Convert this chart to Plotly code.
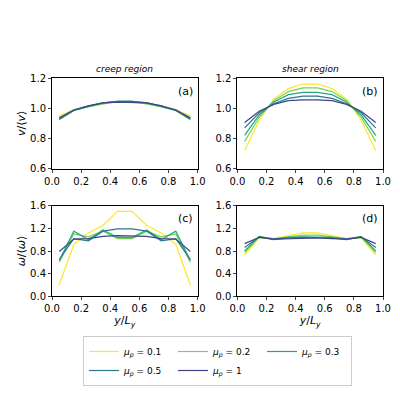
import plotly.graph_objects as go
from plotly.subplots import make_subplots

x = [0.05,0.15,0.25,0.35,0.45,0.55,0.65,0.75,0.85,0.95]
mus = ["0.1","0.2","0.3","0.5","1"]
colors = ["#fde725","#7ad151","#22a884","#2a788e","#414487"]
def sym(h): return h + h[::-1]
a = [sym([0.95,0.99,1.01,1.03,1.04]), sym([0.94,0.985,1.01,1.03,1.045]), sym([0.93,0.985,1.01,1.035,1.045]),
     sym([0.925,0.985,1.015,1.035,1.045]), sym([0.935,0.99,1.015,1.035,1.04])]
b = [sym([0.72,0.92,1.06,1.13,1.16]), sym([0.78,0.94,1.05,1.11,1.135]), sym([0.82,0.955,1.04,1.09,1.105]),
     sym([0.87,0.97,1.03,1.065,1.08]), sym([0.905,0.98,1.025,1.05,1.055])]
c = [sym([0.2,0.92,1.12,1.25,1.5]), sym([0.6,1.1,1.05,1.15,1.02]), sym([0.63,1.15,1.0,1.17,1.04]),
     sym([0.65,1.02,0.98,1.15,1.19]), sym([0.79,1.01,1.02,1.06,1.07])]
d = [sym([0.73,1.03,1.02,1.07,1.12]), sym([0.77,1.05,1.02,1.05,1.08]), sym([0.8,1.06,1.01,1.04,1.05]),
     sym([0.86,1.05,1.0,1.03,1.04]), sym([0.93,1.04,1.01,1.02,1.03])]

fig = make_subplots(rows=2, cols=2, horizontal_spacing=0.12, vertical_spacing=0.17)
for i,(mu,col) in enumerate(zip(mus,colors)):
    for data,(r,cc) in zip([a,b,c,d],[(1,1),(1,2),(2,1),(2,2)]):
        fig.add_trace(go.Scatter(x=x,y=data[i],mode="lines",line=dict(color=col,width=1.2),
            name=f"<i>μ<sub>p</sub></i> = {mu}", showlegend=(r==1 and cc==1)), row=r, col=cc)
ax = dict(range=[0,1], dtick=0.2, tickformat=".1f", showgrid=False, zeroline=False, showline=True,
          linecolor="black", mirror=True, ticks="outside", ticklen=3, tickfont=dict(size=10))
for r in (1,2):
    for cc in (1,2):
        fig.update_xaxes(**ax, row=r, col=cc)
        fig.update_yaxes(**ax, row=r, col=cc)
for cc in (1,2):
    fig.update_yaxes(range=[0.6,1.2], dtick=0.2, row=1, col=cc)
    fig.update_yaxes(range=[0,1.6], dtick=0.4, row=2, col=cc)
    fig.update_xaxes(title=dict(text="<i>y</i>/<i>L<sub>y</sub></i>", standoff=2, font=dict(size=11)), row=2, col=cc)
fig.update_yaxes(title=dict(text="<i>v</i>/⟨<i>v</i>⟩", standoff=2, font=dict(size=11)), row=1, col=1)
fig.update_yaxes(title=dict(text="<i>ω</i>/⟨<i>ω</i>⟩", standoff=2, font=dict(size=11)), row=2, col=1)
for ref,t in [("x","(a)"),("x2","(b)"),("x3","(c)"),("x4","(d)")]:
    fig.add_annotation(xref=ref+" domain", yref=ref.replace("x","y")+" domain", x=0.98, y=0.95,
                       text=t, showarrow=False, xanchor="right", yanchor="top", font=dict(size=11))
fig.add_annotation(xref="x domain", yref="y domain", x=0.5, y=1.02, text="<i>creep region</i>", showarrow=False, yanchor="bottom", font=dict(size=9))
fig.add_annotation(xref="x2 domain", yref="y2 domain", x=0.5, y=1.02, text="<i>shear region</i>", showarrow=False, yanchor="bottom", font=dict(size=9))
fig.update_layout(width=400, height=400, plot_bgcolor="white", paper_bgcolor="white",
    font=dict(family="DejaVu Sans", color="black"),
    margin=dict(l=40, r=25, t=70, b=102),
    legend=dict(orientation="h", x=0.5, xanchor="center", yref="container", y=0.18, yanchor="top",
                bordercolor="#cccccc", borderwidth=1, font=dict(size=9), entrywidth=44, itemwidth=30,
                tracegroupgap=0))
fig.write_html("out.html")
